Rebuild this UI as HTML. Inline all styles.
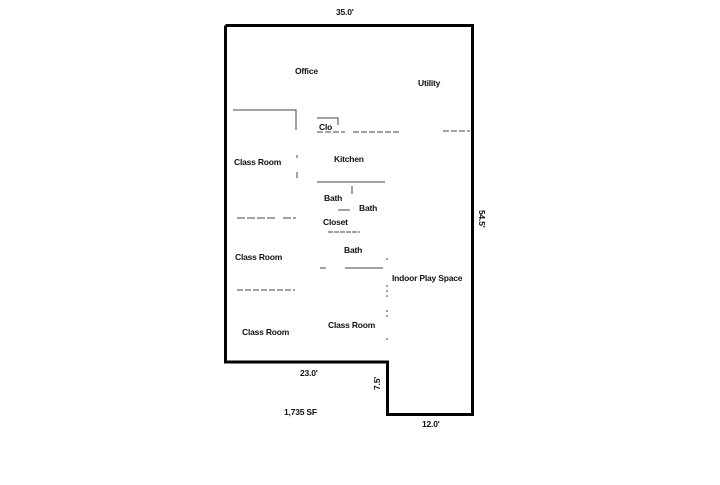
<!DOCTYPE html>
<html><head><style>
html,body{margin:0;padding:0;background:#fff}
svg text{font-family:"Liberation Sans",Arial,sans-serif;font-size:8.5px;font-weight:bold;fill:#111;letter-spacing:-0.2px}
</style></head><body>
<svg width="720" height="480" viewBox="0 0 720 480" xmlns="http://www.w3.org/2000/svg">
<rect width="720" height="480" fill="#fff"/>
<polyline points="225.5,25.5 472.5,25.5 472.5,414.5 387.5,414.5 387.5,362 225.5,362 225.5,25.5" fill="none" stroke="#000" stroke-width="3"/>
<g stroke="#444" stroke-width="1" fill="none">
<path d="M233 110 H296 V130"/>
<path d="M317 118 H338 V125" />
<path d="M317 132 H345 M353 132 H400 M443 131 H470" stroke-dasharray="6,2"/>
<path d="M317 182 H385" />
<path d="M297 155 V158 M297 172 V178 M352 186 V194"/>
<path d="M338 210 H350"/>
<path d="M237 218 H275 M283 218 H296" stroke-dasharray="8,2"/>
<path d="M328 232 H360" stroke-dasharray="5,1"/>
<path d="M320 268 H326 M345 268 H383"/>
<path d="M237 290 H295" stroke-dasharray="6,2"/>
<path d="M387 258 V262 M387 285 V300 M387 310 V320 M387 338 V342" stroke-dasharray="2,3"/>
</g>
<text x="336" y="15">35.0'</text>
<text x="295" y="74">Office</text>
<text x="418" y="86">Utility</text>
<text x="319" y="130">Clo</text>
<text x="234" y="165">Class Room</text>
<text x="334" y="162">Kitchen</text>
<text x="324" y="201">Bath</text>
<text x="359" y="211">Bath</text>
<text x="323" y="225">Closet</text>
<text x="344" y="253">Bath</text>
<text x="235" y="260">Class Room</text>
<text x="392" y="281">Indoor Play Space</text>
<text x="328" y="328">Class Room</text>
<text x="242" y="335">Class Room</text>
<text x="300" y="376">23.0'</text>
<text x="284" y="415">1,735 SF</text>
<text x="422" y="427">12.0'</text>
<text transform="translate(380,390) rotate(-90)">7.5'</text>
<text transform="translate(479,210) rotate(90)">54.5'</text>
</svg>
</body></html>
